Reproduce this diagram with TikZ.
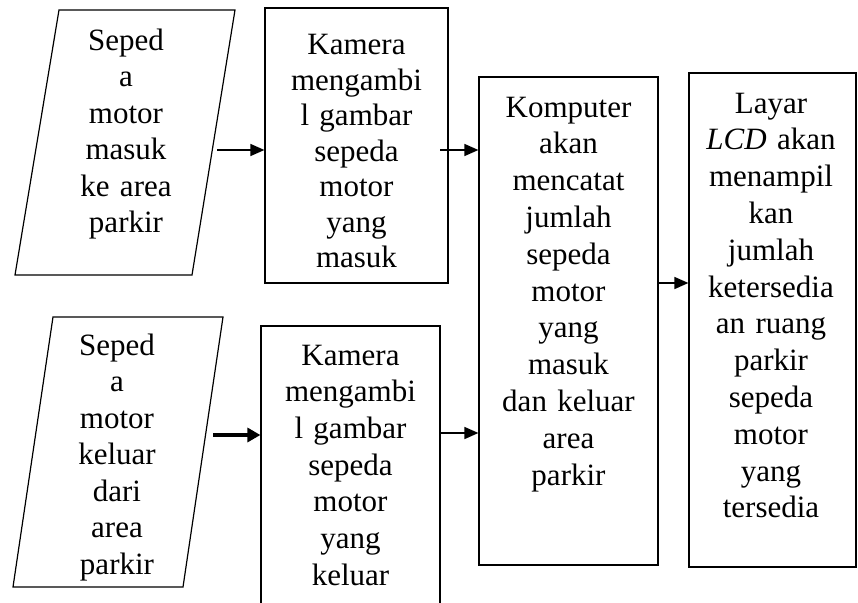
\documentclass[tikz,border=0pt]{standalone}
\usepackage{fontspec}
\setmainfont{Liberation Serif}
\usetikzlibrary{arrows.meta}
\tikzset{
  box/.style={draw, line width=1.2pt, rectangle, inner sep=0pt},
  para/.style={draw, line width=1.2pt},
  txt/.style={align=center, text width=190pt, anchor=base, inner sep=0pt, font=\fontsize{31}{36.5}\selectfont},
  arr/.style={line width=1.5pt, -{Triangle[length=14pt,width=12pt]}},
  thickarr/.style={line width=3.2pt, -{Triangle[length=13pt,width=14pt]}}
}
\begin{document}
\begin{tikzpicture}[x=1pt,y=-1pt]
\useasboundingbox (0,0) rectangle (858,602);
% parallelograms
\draw[para] (59,10) -- (235,10) -- (192,275) -- (15,275) -- cycle;
\draw[para] (53,317) -- (223,317) -- (183,587) -- (13,587) -- cycle;
% boxes
\node[box, minimum width=183pt, minimum height=275pt] (k1) at (356.5,145.5) {};
\node[box, minimum width=179pt, minimum height=314pt] (k2) at (350.5,483) {};
\node[box, minimum width=179pt, minimum height=488pt] (komp) at (568.5,321) {};
\node[box, minimum width=167pt, minimum height=494pt] (lcd) at (772.5,320) {};
% texts
\node[txt] (t1) at (126,50) {Seped\\a\\motor\\masuk\\ke area\\parkir};
\node[txt] (t2) at (117,355) {Seped\\a\\motor\\keluar\\dari\\area\\parkir};
\node[txt, font=\fontsize{31}{35.4}\selectfont] (t3) at (356.5,55) {Kamera\\mengambi\\l gambar\\sepeda\\motor\\yang\\masuk};
\node[txt, font=\fontsize{31}{36.7}\selectfont] (t4) at (350.5,365) {Kamera\\mengambi\\l gambar\\sepeda\\motor\\yang\\keluar};
\node[txt, font=\fontsize{31}{36.8}\selectfont] (t5) at (568.5,117) {Komputer\\akan\\mencatat\\jumlah\\sepeda\\motor\\yang\\masuk\\dan keluar\\area\\parkir};
\node[txt, font=\fontsize{31}{36.8}\selectfont] (t6) at (771,113) {Layar\\\textit{LCD} akan\\menampil\\kan\\jumlah\\ketersedia\\an ruang\\parkir\\sepeda\\motor\\yang\\tersedia};
% arrows
\coordinate (a1) at (217,150);
\coordinate (a2) at (213,435);
\coordinate (a3) at (440,150);
\coordinate (a4) at (0,433);
\coordinate (a5) at (0,283);
\draw[arr] (a1) -- (k1.west |- a1);
\draw[thickarr] (a2) -- (k2.west |- a2);
\draw[arr] (a3) -- (komp.west |- a3);
\draw[arr] (k2.east |- a4) -- (komp.west |- a4);
\draw[arr] (komp.east |- a5) -- (lcd.west |- a5);
\end{tikzpicture}
\end{document}
